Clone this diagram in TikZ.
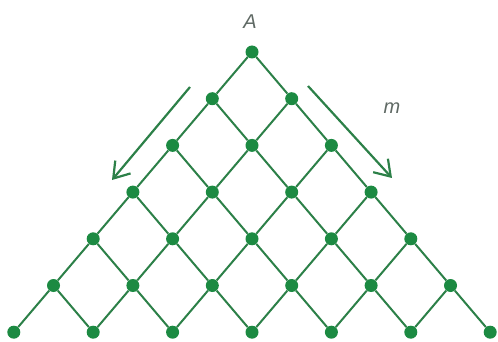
\documentclass[tikz,border=0pt]{standalone}
\usepackage{xcolor}
\usepackage{fontspec}
\setmainfont{Liberation Sans}
\usetikzlibrary{arrows.meta}

\definecolor{latticegreen}{RGB}{44,128,72}
\definecolor{dotgreen}{RGB}{28,138,66}
\definecolor{labelgray}{RGB}{95,105,100}

\begin{document}
\begin{tikzpicture}[x=1pt,y=-1pt,
  dot/.style={circle, fill=dotgreen, inner sep=0pt, minimum size=13pt},
  edge/.style={latticegreen, line width=2pt},
  dirarrow/.style={latticegreen, line width=2.2pt, -{Straight Barb[length=15pt,width=20pt]}},
  lbl/.style={text=labelgray, font=\fontsize{20}{24}\selectfont\itshape}]
  \useasboundingbox (0,0) rectangle (498,342);

  % Place the lattice points
  \foreach \i in {0,...,6} {
    \foreach \j in {0,...,\i} {
      \node[dot] (n-\i-\j) at ({252+(2*\j-\i)*39.7}, {52+\i*46.7}) {};
    }
  }

  % Join each point to the two points below it
  \foreach \i [evaluate=\i as \k using int(\i+1)] in {0,...,5} {
    \foreach \j [evaluate=\j as \l using int(\j+1)] in {0,...,\i} {
      \draw[edge] (n-\i-\j) -- (n-\k-\j);
      \draw[edge] (n-\i-\j) -- (n-\k-\l);
    }
  }

  % Labels
  \node[lbl] (A) at (250,22) {A};
  \node[lbl] (m) at (392,108) {m};

  % Direction arrows
  \coordinate (la-start) at (190,87);
  \coordinate (la-end) at (112,180);
  \coordinate (ra-start) at (308,86);
  \coordinate (ra-end) at (392,178);
  \draw[dirarrow] (la-start) -- (la-end);
  \draw[dirarrow] (ra-start) -- (ra-end);

\end{tikzpicture}
\end{document}
